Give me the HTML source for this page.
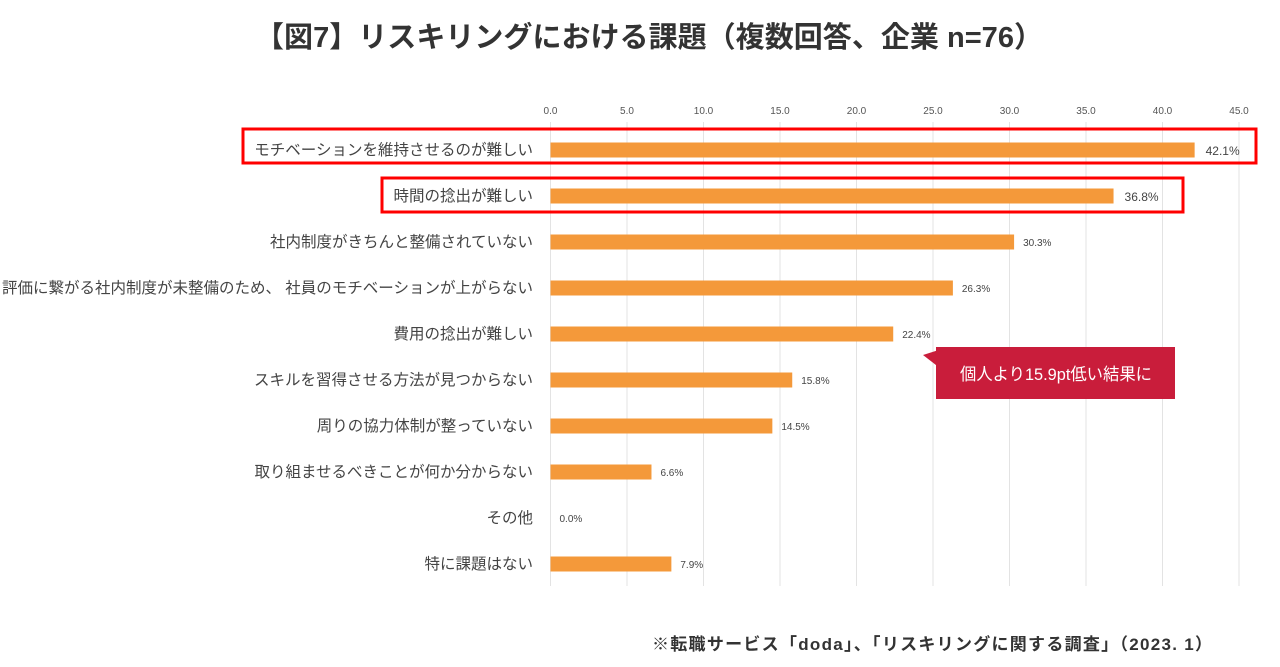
<!DOCTYPE html>
<html><head><meta charset="utf-8"><style>
body{margin:0;background:#fff;width:1280px;height:662px;overflow:hidden;font-family:"Liberation Sans","Noto Sans CJK JP",sans-serif;}
</style></head><body>
<svg id="chart" width="1280" height="662" xmlns="http://www.w3.org/2000/svg" font-family="Liberation Sans, Noto Sans CJK JP, sans-serif">
<text x="255" y="47" textLength="788" lengthAdjust="spacingAndGlyphs" font-size="29" font-weight="bold" fill="#333">【図7】リスキリングにおける課題（複数回答、企業 n=76）</text>
<g id="grid"></g><g id="bars"></g>
<rect x="243" y="129" width="1013" height="34" fill="none" stroke="#f00" stroke-width="3"/>
<rect x="382" y="178" width="801" height="34" fill="none" stroke="#f00" stroke-width="3"/>
<g>
<polygon points="923,355 945,348 945,372" fill="#c91d3b"/>
<rect x="936" y="347" width="239" height="52" fill="#c91d3b"/>
<text x="960" y="380" textLength="192" lengthAdjust="spacingAndGlyphs" font-size="17" fill="#fff">個人より15.9pt低い結果に</text>
</g>
<text x="652" y="650" textLength="560" lengthAdjust="spacing" font-size="17" font-weight="bold" fill="#333">※転職サービス「doda」、「リスキリングに関する調査」（2023. 1）</text>
</svg>
<script>
const categories=["モチベーションを維持させるのが難しい","時間の捻出が難しい","社内制度がきちんと整備されていない","評価に繋がる社内制度が未整備のため、 社員のモチベーションが上がらない","費用の捻出が難しい","スキルを習得させる方法が見つからない","周りの協力体制が整っていない","取り組ませるべきことが何か分からない","その他","特に課題はない"];
const values=[42.1,36.8,30.3,26.3,22.4,15.8,14.5,6.6,0.0,7.9];
const ticks=[0,5,10,15,20,25,30,35,40,45];
const NS="http://www.w3.org/2000/svg";
const x=v=>550.5+v*15.3;
const y=i=>150+i*46;
function mk(t,a,p){const e=document.createElementNS(NS,t);for(const k in a)e.setAttribute(k,a[k]);p.appendChild(e);return e;}
const g=document.getElementById('grid'),b=document.getElementById('bars');
ticks.forEach(t=>{
 const l=mk('line',{x1:x(t),x2:x(t),y1:122,y2:586,stroke:'#e3e3e3','stroke-width':1},g);
 
 
 const tx=mk('text',{x:x(t),y:114,'text-anchor':'middle','font-size':10,fill:'#555'},g);
 tx.textContent=t.toFixed(1);
 
 
});
categories.forEach((c,i)=>{
 const lb=mk('text',{x:533,y:y(i)+5,'text-anchor':'end','font-size':15.5,fill:'#444'},b);
 lb.textContent=c;
 
 
 const r=mk('rect',{x:x(0),y:y(i)-7.5,width:Math.max(0,x(values[i])-x(0)),height:15,fill:'#f4993a'},b);
 
 
 const big=i<2;
 const vt=mk('text',{x:x(values[i])+(big?11:9),y:y(i)+(big?5:4),'font-size':big?12:10,fill:'#444'},b);
 vt.textContent=values[i].toFixed(1)+'%';
 
 
});
</script>
</body></html>
